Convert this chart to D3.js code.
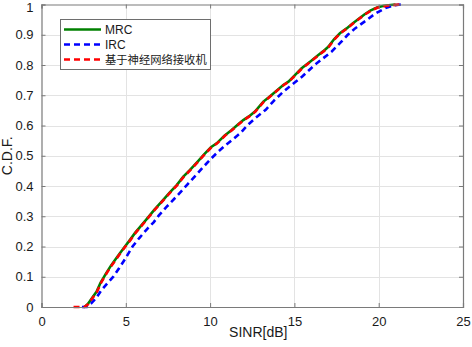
<!DOCTYPE html>
<html><head><meta charset="utf-8">
<script src="https://cdn.jsdelivr.net/npm/d3@7"></script>
<style>
html,body{margin:0;padding:0;background:#fff;}
svg{display:block;font-family:"Liberation Sans",Arial,sans-serif;}
</style></head>
<body><svg id="c" width="472" height="347"></svg>
<script>
const seriesNames = ["MRC", "IRC", "基于神经网络接收机"];
const seriesColors = ["#008000", "#0000ff", "#ff0000"];
const xTicks = [0, 5, 10, 15, 20, 25];
const yTicks = [0, 0.1, 0.2, 0.3, 0.4, 0.5, 0.6, 0.7, 0.8, 0.9, 1];

const mrc = [[2.55,0],[2.75,0.01],[3.0,0.03],[3.27,0.051],[3.5,0.08],[3.83,0.111],[4.1,0.135],[4.36,0.155],[4.65,0.178],[4.95,0.2],[5.25,0.222],[5.55,0.245],[5.85,0.265],[6.2,0.288],[6.7,0.322],[7.22,0.354],[7.6,0.378],[8.02,0.403],[8.4,0.43],[8.81,0.453],[9.25,0.48],[9.7,0.508],[10.05,0.528],[10.39,0.541],[10.85,0.566],[11.28,0.585],[11.67,0.604],[11.97,0.618],[12.3,0.63],[12.66,0.646],[13.16,0.679],[13.45,0.692],[13.75,0.706],[14.34,0.734],[14.65,0.745],[14.93,0.761],[15.43,0.789],[15.93,0.811],[16.42,0.833],[16.7,0.845],[17.01,0.86],[17.35,0.885],[17.7,0.905],[18.1,0.921],[18.45,0.937],[18.8,0.952],[19.15,0.967],[19.5,0.98],[19.9,0.99],[20.3,0.996],[21.0,1]];
const irc = [[2.4,0],[2.7,0],[2.95,0.012],[3.25,0.03],[3.55,0.055],[3.9,0.078],[4.26,0.1],[4.6,0.128],[4.95,0.158],[5.4,0.2],[5.8,0.228],[6.3,0.26],[6.65,0.28],[6.95,0.302],[7.4,0.33],[7.95,0.362],[8.3,0.383],[8.7,0.408],[9.15,0.435],[9.55,0.46],[10.05,0.49],[10.45,0.512],[10.85,0.532],[11.3,0.552],[11.8,0.575],[12.2,0.6],[12.7,0.625],[13.3,0.652],[13.75,0.68],[14.35,0.712],[14.85,0.735],[15.45,0.761],[15.85,0.782],[16.2,0.8],[16.7,0.822],[17.2,0.844],[17.7,0.872],[18.15,0.899],[18.6,0.921],[19.2,0.945],[19.8,0.97],[20.4,0.988],[20.9,0.997],[21.35,1]];
const nn = [[1.9,0],[2.55,0],[2.78,0.01],[3.03,0.03],[3.3,0.051],[3.53,0.08],[3.86,0.111],[4.13,0.135],[4.39,0.155],[4.68,0.178],[4.98,0.2],[5.28,0.222],[5.58,0.245],[5.88,0.265],[6.23,0.288],[6.73,0.322],[7.25,0.354],[7.63,0.378],[8.05,0.403],[8.43,0.43],[8.84,0.453],[9.28,0.48],[9.73,0.508],[10.08,0.528],[10.42,0.541],[10.88,0.566],[11.31,0.585],[11.7,0.604],[12.0,0.618],[12.33,0.63],[12.69,0.646],[13.19,0.679],[13.48,0.692],[13.78,0.706],[14.37,0.734],[14.68,0.745],[14.96,0.761],[15.46,0.789],[15.96,0.811],[16.45,0.833],[16.73,0.845],[17.04,0.86],[17.38,0.885],[17.73,0.905],[18.13,0.921],[18.48,0.937],[18.83,0.952],[19.18,0.967],[19.55,0.98],[19.95,0.99],[20.5,0.996],[21.25,1]];

const svg = d3.select("#c");
const L = 41.5, R = 463, T = 4.5, B = 307;
const x = d3.scaleLinear().domain([0, 25]).range([L, R]);
const y = d3.scaleLinear().domain([0, 1]).range([B, T]);

svg.append("rect").attr("x",0).attr("y",0).attr("width",472).attr("height",347).attr("fill","#fff");

// grid
const g = svg.append("g");
g.selectAll(".gx").data(xTicks.slice(1,-1)).enter().append("line")
  .attr("x1",d=>Math.round(x(d))+0.5).attr("x2",d=>Math.round(x(d))+0.5).attr("y1",T).attr("y2",B)
  .attr("stroke","#e3e3e3").attr("stroke-width",1);
g.selectAll(".gy").data(yTicks.slice(1,-1)).enter().append("line")
  .attr("y1",d=>Math.round(y(d))+0.5).attr("y2",d=>Math.round(y(d))+0.5).attr("x1",L).attr("x2",R)
  .attr("stroke","#e3e3e3").attr("stroke-width",1);

// lines
const line = d3.line().x(d=>x(d[0])).y(d=>y(d[1]));
const plot = svg.append("g");
plot.append("path").datum(mrc).attr("d",line).attr("fill","none").attr("stroke",seriesColors[0]).attr("stroke-width",2.6);
plot.append("path").datum(irc).attr("d",line).attr("fill","none").attr("stroke",seriesColors[1]).attr("stroke-width",2.6).attr("stroke-dasharray","6,4");
plot.append("path").datum(nn).attr("d",line).attr("fill","none").attr("stroke",seriesColors[2]).attr("stroke-width",2.6).attr("stroke-dasharray","6,4");

// axes
const axCol = "#7a7a7a";
const xa = d3.axisBottom(x).tickValues(xTicks).tickSize(-4).tickPadding(10).tickFormat(d3.format("d"));
const ya = d3.axisLeft(y).tickValues(yTicks).tickSize(-4).tickPadding(8).tickFormat(d=>d===0||d===1?String(d):d3.format(".1f")(d));
svg.append("g").attr("transform",`translate(0,${B})`).call(xa);
const yg = svg.append("g").attr("transform",`translate(${L},0)`).call(ya);
svg.append("g").attr("transform",`translate(0,${T})`).call(d3.axisTop(x).tickValues(xTicks).tickSize(-4).tickFormat(""));
svg.append("g").attr("transform",`translate(${R},0)`).call(d3.axisRight(y).tickValues(yTicks).tickSize(-4).tickFormat(""));
svg.selectAll(".domain").attr("stroke",axCol).attr("stroke-width",1.2);
svg.selectAll(".tick line").attr("stroke",axCol);
svg.selectAll(".tick text").attr("fill","#1a1a1a").style("font-size","13px").style("font-family","'Liberation Sans',Arial,sans-serif");
yg.selectAll(".tick text").filter(d=>d===1).attr("dy","0.52em");

// labels
svg.append("text").attr("x",(L+R)/2+6).attr("y",337).attr("text-anchor","middle")
  .style("font-size","14px").attr("fill","#1a1a1a").text("SINR[dB]");
svg.append("text").attr("transform",`translate(12,${(T+B)/2}) rotate(-90)`).attr("text-anchor","middle")
  .style("font-size","14px").attr("fill","#1a1a1a").text("C.D.F.");

// legend
const lg = svg.append("g");
lg.append("rect").attr("x",60.5).attr("y",19.5).attr("width",150).attr("height",50).attr("fill","#fff").attr("stroke","#6e6e6e").attr("stroke-width",1);
const ly = [29.5, 44.5, 59.5];
seriesNames.forEach((n,i)=>{
  lg.append("line").attr("x1",64).attr("x2",101).attr("y1",ly[i]).attr("y2",ly[i])
    .attr("stroke",seriesColors[i]).attr("stroke-width",2.6).attr("stroke-dasharray",i===0?null:"6,4");
  lg.append("text").attr("x",105).attr("y",ly[i]+4).style("font-size",i===2?"11.3px":"12px")
    .style("font-family",i===2?"'Noto Sans CJK SC',sans-serif":"'Liberation Sans',Arial,sans-serif")
    .attr("fill","#1a1a1a").text(n);
});
</script></body></html>
